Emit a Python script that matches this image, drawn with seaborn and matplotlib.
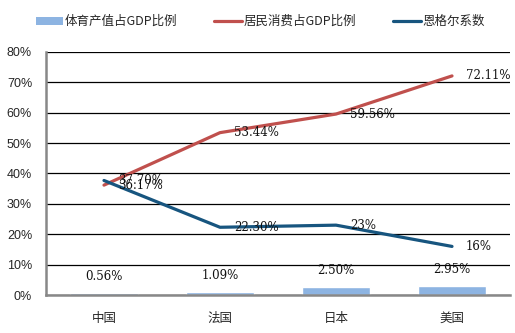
import matplotlib
matplotlib.use("Agg")
import matplotlib.pyplot as plt
from matplotlib.patches import Patch
from matplotlib.lines import Line2D
from matplotlib.ticker import FuncFormatter
import seaborn as sns
import pandas as pd

countries = ["中国", "法国", "日本", "美国"]
sports_share = [0.56, 1.09, 2.50, 2.95]
consumption_share = [36.17, 53.44, 59.56, 72.11]
engel_coef = [37.70, 22.30, 23.0, 16.0]
engel_labels = ["37.70%", "22.30%", "23%", "16%"]
series_names = ["体育产值占GDP比例", "居民消费占GDP比例", "恩格尔系数"]

BAR_C = "#8DB4E2"
RED_C = "#C0504D"
NAVY_C = "#17557F"

sns.set_theme(style="white")
plt.rcParams["font.family"] = ["Noto Sans CJK SC", "DejaVu Sans"]

df = pd.DataFrame({
    "country": countries,
    "sports": sports_share,
    "consumption": consumption_share,
    "engel": engel_coef,
})

fig = plt.figure(figsize=(5.15, 3.33), dpi=100)
ax = fig.add_axes([0.0893, 0.114, 0.901, 0.730])

sns.barplot(data=df, x="country", y="sports", color=BAR_C, width=0.58,
            saturation=1, ax=ax, zorder=3)
sns.lineplot(data=df, x="country", y="consumption", color=RED_C, lw=2.3,
             sort=False, ax=ax, zorder=4)
sns.lineplot(data=df, x="country", y="engel", color=NAVY_C, lw=2.3,
             sort=False, ax=ax, zorder=4)

ax.set_xlim(-0.5, 3.5)
ax.set_ylim(0, 80)
ax.set_yticks(range(0, 81, 10))
ax.yaxis.set_major_formatter(FuncFormatter(lambda v, _: f"{int(v)}%"))
ax.grid(axis="y", color="black", lw=0.9, zorder=0)
ax.set_axisbelow(True)
ax.set_xlabel("")
ax.set_ylabel("")

for s in ["top", "right"]:
    ax.spines[s].set_visible(False)
for s in ["left", "bottom"]:
    ax.spines[s].set_color("#888888")
    ax.spines[s].set_linewidth(1.8)
    ax.spines[s].set_zorder(5)

ax.tick_params(axis="y", labelsize=9, length=0, pad=10)
ax.tick_params(axis="x", labelsize=9, length=0, pad=12)
for t in ax.get_yticklabels():
    t.set_fontfamily(["Liberation Sans", "DejaVu Sans"])

val_font = ["DejaVu Serif"]
val_kw = dict(textcoords="offset points", va="center", fontsize=8.5,
              family=val_font, color="#111111", zorder=6)
for i, v in enumerate(sports_share):
    ax.annotate(f"{v:.2f}%", (i, v), xytext=(0, 12), ha="center", **val_kw)
for i, v in enumerate(consumption_share):
    ax.annotate(f"{v:.2f}%", (i, v), xytext=(10, 0), ha="left", **val_kw)
for i, v in enumerate(engel_coef):
    ax.annotate(engel_labels[i], (i, v), xytext=(10, 0), ha="left", **val_kw)

handles = [
    Patch(facecolor=BAR_C, edgecolor="none"),
    Line2D([], [], color=RED_C, lw=2.3),
    Line2D([], [], color=NAVY_C, lw=2.3),
]
fig.legend(handles, series_names, loc="center", bbox_to_anchor=(0.505, 0.935),
           ncol=3, frameon=False, fontsize=9, handlelength=2.2, handleheight=0.6,
           handletextpad=0.1, columnspacing=3.0)

fig.savefig("out.png", dpi=100)
